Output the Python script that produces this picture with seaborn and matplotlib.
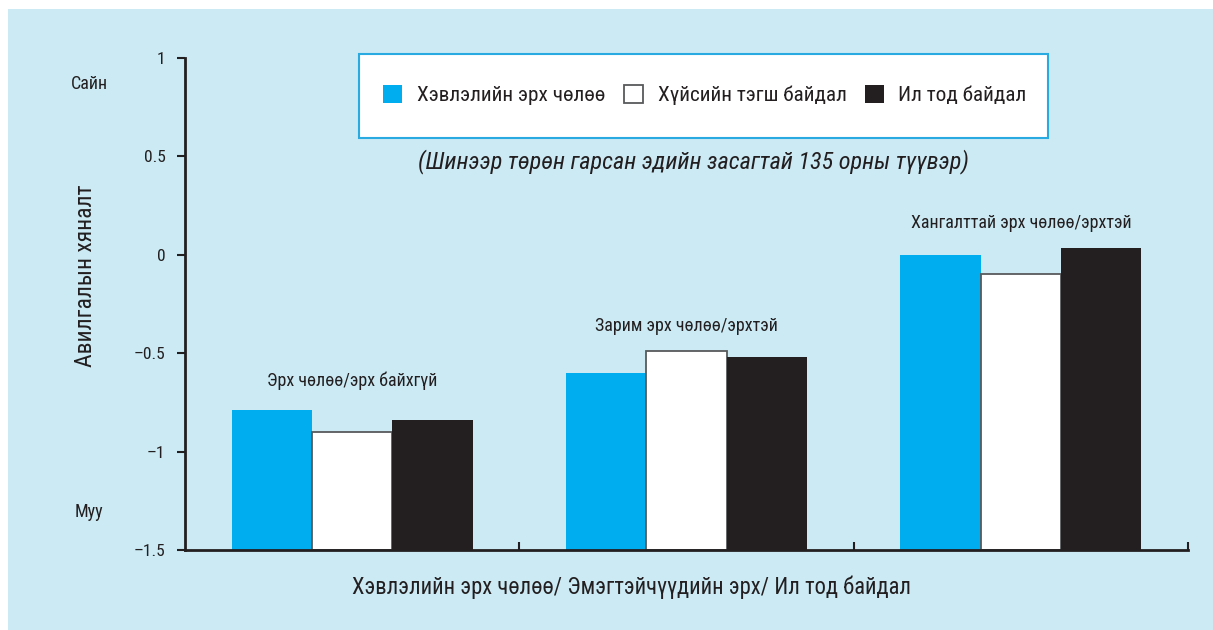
import matplotlib
matplotlib.use("Agg")
import matplotlib.pyplot as plt
from matplotlib import font_manager as fm
from matplotlib.patches import Rectangle, Patch
import seaborn as sns
import pandas as pd

categories = ["Эрх чөлөө/эрх байхгүй", "Зарим эрх чөлөө/эрхтэй", "Хангалттай эрх чөлөө/эрхтэй"]
series = ["Хэвлэлийн эрх чөлөө", "Хүйсийн тэгш байдал", "Ил тод байдал"]
press_freedom = [-0.79, -0.60, 0.00]
gender_equality = [-0.90, -0.49, -0.10]
transparency = [-0.84, -0.52, 0.035]
yticks = [1, 0.5, 0, -0.5, -1, -1.5]
ytick_labels = ["1", "0.5", "0", "\u20130.5", "\u20131", "\u20131.5"]

BASE = -1.5
colors = ["#00aeef", "#ffffff", "#231f20"]
BG = "#cbeaf4"
TXT = "#231f20"

sns.set_theme(style="white")

# pick a condensed face if one is installed
fonts = fm.fontManager.ttflist
chosen = None
stretch = "normal"
for fam in ["Liberation Sans Narrow", "Roboto Condensed", "Open Sans Condensed", "Noto Sans Condensed"]:
    if any(f.name == fam for f in fonts):
        chosen = fam
        break
if chosen is None:
    for fam in ["DejaVu Sans", "Noto Sans", "Roboto", "Open Sans"]:
        if any(f.name == fam and f.stretch in ("condensed", "semi-condensed", 75, 87) for f in fonts):
            chosen = fam
            stretch = "condensed"
            break
if chosen is None:
    chosen = "DejaVu Sans"
plt.rcParams["font.family"] = [chosen, "DejaVu Sans"]
plt.rcParams["font.stretch"] = stretch

rows = []
for s, vals in zip(series, [press_freedom, gender_equality, transparency]):
    for c, v in zip(categories, vals):
        rows.append({"category": c, "series": s, "value": v, "height": v - BASE})
df = pd.DataFrame(rows)

fig = plt.figure(figsize=(12.13, 6.30), dpi=100)
fig.patch.set_facecolor("white")
fig.patches.append(Rectangle((8 / 1213, 0), 1 - 8 / 1213, 1 - 9 / 630,
                             transform=fig.transFigure, facecolor=BG,
                             edgecolor="none", zorder=-10))
ax = fig.add_axes([185 / 1213, 1 - 550 / 630, 1003 / 1213, 492 / 630])
ax.set_facecolor("none")

sns.barplot(data=df, x="category", y="height", hue="series", order=categories,
            hue_order=series, palette=colors, width=0.72, bottom=BASE,
            errorbar=None, legend=False, ax=ax, linewidth=0, saturation=1)

for i, p in enumerate(ax.patches):
    if i // 3 == 1:
        p.set_edgecolor("#58595b")
        p.set_linewidth(1.3)

ax.set_xlim(-0.5, 2.5)
ax.set_ylim(-1.5, 1.0)
ax.set_yticks(yticks)
ax.set_yticklabels(ytick_labels, fontsize=12.5, color=TXT)
ax.set_xticks([0.5, 1.5, 2.5])
ax.set_xticklabels([])
ax.tick_params(axis="y", direction="out", length=6, width=1.5, color=TXT, pad=8, left=True)
ax.tick_params(axis="x", direction="in", length=6, width=1.5, color=TXT, bottom=True)
for side in ["top", "right"]:
    ax.spines[side].set_visible(False)
for side in ["left", "bottom"]:
    ax.spines[side].set_color(TXT)
    ax.spines[side].set_linewidth(2)
ax.set_xlabel("")
ax.set_ylabel("")

label_y = [-0.64, -0.36, 0.16]
for i, (c, ly) in enumerate(zip(categories, label_y)):
    ax.text(i, ly, c, ha="center", va="center", fontsize=13, color=TXT)

fig.text(89 / 1213, 1 - 84 / 630, "Сайн", ha="center", va="center", fontsize=13, color=TXT)
fig.text(89 / 1213, 1 - 512 / 630, "Муу", ha="center", va="center", fontsize=13, color=TXT)
fig.text(86 / 1213, 1 - 276 / 630, "Авилгалын хяналт", ha="center", va="center",
         rotation=90, fontsize=17, color=TXT)
fig.text(632 / 1213, 1 - 587 / 630, "Хэвлэлийн эрх чөлөө/ Эмэгтэйчүүдийн эрх/ Ил тод байдал",
         ha="center", va="center", fontsize=16.3, color=TXT)
fig.text(693 / 1213, 1 - 162 / 630, "(Шинээр төрөн гарсан эдийн засагтай 135 орны түүвэр)",
         ha="center", va="center", fontsize=17.5, style="italic", color=TXT)

# legend box
fig.patches.append(Rectangle((359 / 1213, 1 - 138 / 630), 689 / 1213, 84 / 630,
                             transform=fig.transFigure, facecolor="white",
                             edgecolor="#29abe2", linewidth=1.5, zorder=1))
handles = [Patch(facecolor=colors[0], edgecolor="none"),
           Patch(facecolor=colors[1], edgecolor="#58595b", linewidth=1.3),
           Patch(facecolor=colors[2], edgecolor="none")]
leg = fig.legend(handles, series, loc="center",
                 bbox_to_anchor=(705 / 1213, 1 - 95 / 630), ncol=3,
                 fontsize=15.3, frameon=False,
                 handlelength=0.9, handleheight=0.9, handletextpad=0.7,
                 columnspacing=0.85, borderpad=0)
leg.set_zorder(5)
for t in leg.get_texts():
    t.set_color(TXT)

fig.savefig("out.png", dpi=100, facecolor="white")
